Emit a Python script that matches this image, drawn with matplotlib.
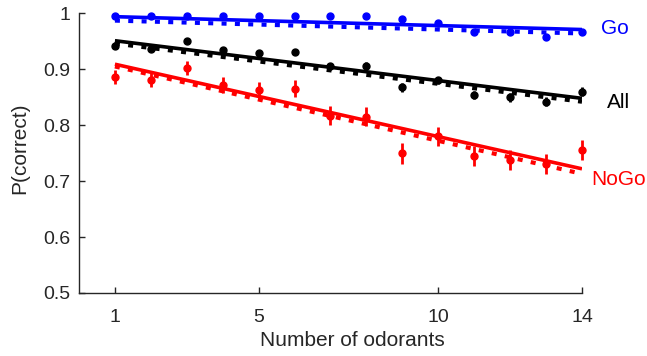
import matplotlib
matplotlib.use("Agg")
import matplotlib.pyplot as plt
import numpy as np

plt.rcParams['font.family'] = ['Liberation Sans', 'DejaVu Sans']

n_odorants = list(range(1, 15))

go_mean = [0.995, 0.995, 0.995, 0.995, 0.995, 0.995, 0.995, 0.995, 0.989, 0.982, 0.967, 0.966, 0.958, 0.966]
go_err = [0.002, 0.002, 0.002, 0.002, 0.002, 0.002, 0.002, 0.002, 0.003, 0.003, 0.004, 0.004, 0.005, 0.004]

all_mean = [0.942, 0.937, 0.950, 0.934, 0.929, 0.931, 0.905, 0.906, 0.868, 0.880, 0.854, 0.850, 0.842, 0.860]
all_err = [0.006, 0.005, 0.005, 0.006, 0.006, 0.006, 0.007, 0.007, 0.008, 0.007, 0.008, 0.008, 0.008, 0.008]

nogo_mean = [0.886, 0.881, 0.902, 0.872, 0.863, 0.865, 0.817, 0.815, 0.750, 0.780, 0.745, 0.737, 0.731, 0.755]
nogo_err = [0.013, 0.012, 0.013, 0.014, 0.015, 0.015, 0.017, 0.017, 0.019, 0.017, 0.018, 0.018, 0.018, 0.018]

# linear fits (solid) and model predictions (dotted), endpoints at x=1 and x=14
fit_x = [1, 14]
go_fit = [0.994, 0.971]
go_model = [0.987, 0.964]
all_fit = [0.951, 0.848]
all_model = [0.946, 0.842]
nogo_fit = [0.909, 0.722]
nogo_model = [0.905, 0.713]

label_names = ["Go", "All", "NoGo"]
label_y = [0.973, 0.840, 0.703]
label_x = [601, 607, 591]

series = [
    ("#0000ff", go_mean, go_err, go_fit, go_model),
    ("#000000", all_mean, all_err, all_fit, all_model),
    ("#ff0000", nogo_mean, nogo_err, nogo_fit, nogo_model),
]

fig = plt.figure(figsize=(6.47, 3.56), dpi=100)
ax = fig.add_axes([0.1221, 0.177, 0.7774, 0.7856])

txtcol = "#262626"
for col, m, e, fit, model in series:
    ax.plot(fit_x, model, color=col, lw=3, dashes=(1.2, 2.0), zorder=2)
    ax.plot(fit_x, fit, color=col, lw=2.6, solid_capstyle='butt', zorder=3)
    eb = ax.errorbar(n_odorants, m, yerr=e, fmt='o', color=col, ms=5, elinewidth=2,
                     capsize=0, zorder=4)
    eb.lines[0].set_clip_on(False)
    for c in eb.lines[2]:
        c.set_clip_on(False)

for (col, *_), name, ly, lx in zip(series, label_names, label_y, label_x):
    ax.text(lx / 647, ly, name, color=col, fontsize=15,
            transform=matplotlib.transforms.blended_transform_factory(fig.transFigure, ax.transData),
            ha='left', va='center')

ax.set_xlim(0, 14)
ax.set_ylim(0.5, 1.0)
ax.set_xticks([1, 5, 10, 14])
ax.set_xticklabels(["1", "5", "10", "14"])
ax.set_yticks([0.5, 0.6, 0.7, 0.8, 0.9, 1.0])
ax.set_yticklabels(["0.5", "0.6", "0.7", "0.8", "0.9", "1"])
ax.spines['top'].set_visible(False)
ax.spines['right'].set_visible(False)
for s in ['left', 'bottom']:
    ax.spines[s].set_color(txtcol)
    ax.spines[s].set_linewidth(1.0)
ax.tick_params(direction='in', length=4, width=1, colors=txtcol, labelsize=14)
ax.tick_params(axis='y', pad=6.5)
ax.tick_params(axis='x', pad=11.5)
ax.set_xlabel("Number of odorants", fontsize=15, color=txtcol)
ax.xaxis.set_label_coords(352 / 647, 1 - 341 / 356, transform=fig.transFigure)
ax.xaxis.label.set_va('center')
ax.set_ylabel("P(correct)", fontsize=15, color=txtcol)
ax.yaxis.set_label_coords(20 / 647, 1 - 148.5 / 356, transform=fig.transFigure)
ax.yaxis.label.set_va('center')

fig.savefig("out.png", dpi=100)
